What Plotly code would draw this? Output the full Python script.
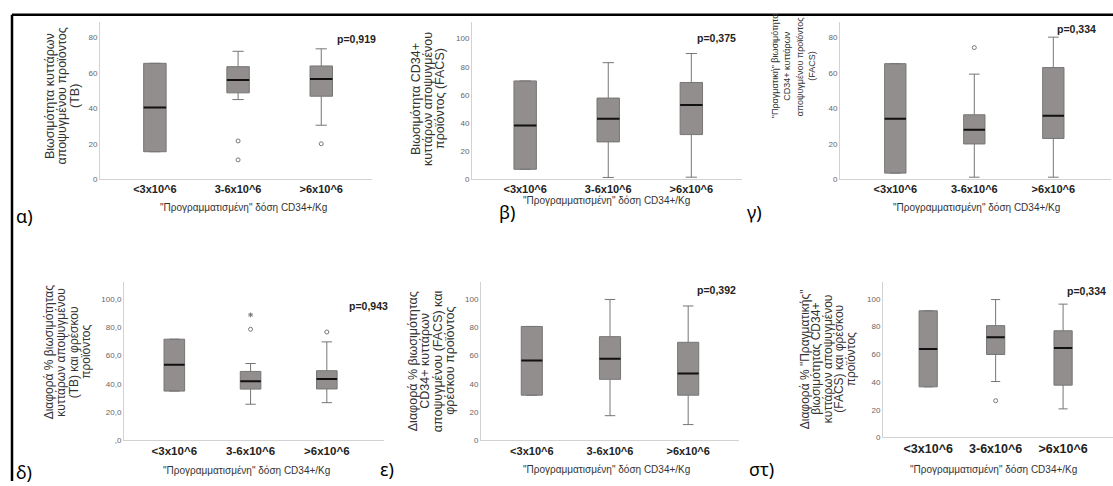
import plotly.graph_objects as go

W, H = 1113, 486

# ---------------- data ----------------
categories = ["<3x10^6", "3-6x10^6", ">6x10^6"]

# α) Viability TB
a_q1 = [15.5, 48.8, 46.9]
a_med = [40.5, 56.0, 56.7]
a_q3 = [65.5, 63.6, 64.0]
a_lo = [15.5, 45.0, 30.5]
a_hi = [65.5, 72.3, 73.7]
a_out_x = [1, 1, 2]
a_out_y = [21.6, 10.9, 20.0]

# β) Viability CD34+ FACS
b_q1 = [7.0, 26.5, 31.7]
b_med = [38.2, 43.0, 52.8]
b_q3 = [69.9, 57.7, 68.8]
b_lo = [7.0, 1.2, 1.4]
b_hi = [69.9, 82.9, 89.4]
b_out_x = []
b_out_y = []

# γ) "Real" viability CD34+ FACS
c_q1 = [3.4, 19.9, 23.0]
c_med = [34.2, 28.0, 35.8]
c_q3 = [65.3, 36.4, 63.1]
c_lo = [3.4, 1.1, 1.1]
c_hi = [65.3, 59.4, 80.3]
c_out_x = [1]
c_out_y = [74.4]

# δ) Difference % viability TB
d_q1 = [34.9, 36.3, 36.4]
d_med = [53.5, 41.8, 43.4]
d_q3 = [71.6, 48.8, 49.3]
d_lo = [34.9, 25.6, 26.7]
d_hi = [71.6, 54.4, 69.7]
d_out_x = [1, 2]
d_out_y = [78.6, 76.7]
d_ext_x = [1]
d_ext_y = [88.8]

# ε) Difference % viability CD34+ FACS
e_q1 = [32.0, 43.2, 32.0]
e_med = [56.5, 57.7, 47.4]
e_q3 = [80.6, 73.4, 69.4]
e_lo = [32.0, 17.5, 11.2]
e_hi = [80.6, 99.7, 95.1]
e_out_x = []
e_out_y = []

# στ) Difference % "real" viability CD34+ FACS
f_q1 = [36.5, 59.8, 37.7]
f_med = [63.8, 72.3, 64.5]
f_q3 = [91.3, 80.6, 76.9]
f_lo = [36.5, 40.3, 20.6]
f_hi = [91.3, 99.4, 96.1]
f_out_x = [1]
f_out_y = [26.5]

p_values = ["p=0,919", "p=0,375", "p=0,334", "p=0,943", "p=0,392", "p=0,334"]
panel_letters = ["α)", "β)", "γ)", "δ)", "ε)", "στ)"]
x_title = "\"Προγραμματισμένη\" δόση CD34+/Kg"

ytick_vals_80 = [0, 20, 40, 60, 80]
ytick_vals_100 = [0, 20, 40, 60, 80, 100]
ytick_text_d = [",0", "20,0", "40,0", "60,0", "80,0", "100,0"]

y_titles = [
    ["Βιωσιμότητα κυττάρων", "αποψυγμένου προϊόντος", "(TB)"],
    ["Βιωσιμότητα CD34+", "κυττάρων αποψυγμένου", "προϊόντος (FACS)"],
    ["\"Πραγματική\" βιωσιμότητα", "CD34+ κυττάρων", "αποψυγμένου προϊόντος", "(FACS)"],
    ["Διαφορά % βιωσιμότητας", "κυττάρων αποψυγμένου", "(TB) και φρέσκου", "προϊόντος"],
    ["Διαφορά % βιωσιμότητας", "CD34+ κυττάρων", "αποψυγμένου (FACS) και", "φρέσκου προϊόντος"],
    ["Διαφορά % \"Πραγματικής\"", "βιωσιμότητας CD34+", "κυττάρων αποψυγμένου", "(FACS) και φρέσκου", "προϊόντος"],
]

stats = [
    (a_q1, a_med, a_q3, a_lo, a_hi, a_out_x, a_out_y),
    (b_q1, b_med, b_q3, b_lo, b_hi, b_out_x, b_out_y),
    (c_q1, c_med, c_q3, c_lo, c_hi, c_out_x, c_out_y),
    (d_q1, d_med, d_q3, d_lo, d_hi, d_out_x, d_out_y),
    (e_q1, e_med, e_q3, e_lo, e_hi, e_out_x, e_out_y),
    (f_q1, f_med, f_q3, f_lo, f_hi, f_out_x, f_out_y),
]

# ---------------- layout specs (pixels) ----------------
specs = [
    dict(L=100, R=372, T=22, B=181, xr=[-0.66, 2.61], yr=[0, 89], yt=ytick_vals_80, ytt=None, xfs=11,
         tx=[50, 62.5, 75], ty=97, tfs=12.5, p=(335, 39), xt=(243, 210), lab=(14, 218)),
    dict(L=472, R=742, T=22, B=181, xr=[-0.64, 2.61], yr=[0, 112], yt=ytick_vals_100, ytt=None, xfs=11,
         tx=[416, 428, 440], ty=100, tfs=12.5, p=(695, 38), xt=(606, 203), lab=(497, 214)),
    dict(L=840, R=1111, T=22, B=181, xr=[-0.70, 2.73], yr=[0, 89], yt=ytick_vals_80, ytt=None, xfs=11,
         tx=[775, 787.5, 800, 812.5], ty=67, tfs=9, p=(1055, 29), xt=(976, 210), lab=(745, 214)),
    dict(L=124, R=384, T=285, B=445, xr=[-0.66, 2.75], yr=[0, 112], yt=ytick_vals_100, ytt=ytick_text_d, xfs=11.5,
         tx=[49, 61.5, 74, 86.5], ty=356, tfs=12, p=(347, 309), xt=(246, 475), lab=(14, 477)),
    dict(L=481, R=739, T=285, B=445, xr=[-0.65, 2.65], yr=[0, 112], yt=ytick_vals_100, ytt=None, xfs=11,
         tx=[413, 425.5, 438, 450.5], ty=365, tfs=12.5, p=(695, 293), xt=(606, 474), lab=(378, 474)),
    dict(L=883, R=1113, T=285, B=442, xr=[-0.67, 2.74], yr=[0, 112], yt=ytick_vals_100, ytt=None, xfs=12.5,
         tx=[805, 816.5, 828, 839.5, 851], ty=363, tfs=12, p=(1065, 294), xt=(993, 474), lab=(747, 474)),
]

BOX_W = 0.27
FILL = "#928e8d"
LINE = "#767676"
FONT = "Liberation Sans, Arial, sans-serif"


def px(xp):
    return xp / W


def py(yp):
    return 1 - yp / H


fig = go.Figure()
annotations = []
xpos = list(range(len(categories)))

for i, (sp, st) in enumerate(zip(specs, stats)):
    q1, med, q3, lo, hi, ox, oy = st
    n = "" if i == 0 else str(i + 1)
    xa, ya = "x" + n, "y" + n
    fig.add_trace(go.Box(
        x=xpos, q1=q1, median=med, q3=q3, lowerfence=lo, upperfence=hi,
        width=BOX_W, whiskerwidth=0.5, fillcolor=FILL,
        line=dict(color=LINE, width=1), boxpoints=False,
        xaxis=xa, yaxis=ya, showlegend=False, hoverinfo="skip"))
    # median lines (black)
    mx, my = [], []
    for k, m in enumerate(med):
        mx += [xpos[k] - BOX_W / 2, xpos[k] + BOX_W / 2, None]
        my += [m, m, None]
    fig.add_trace(go.Scatter(x=mx, y=my, mode="lines", line=dict(color="#111111", width=2),
                             xaxis=xa, yaxis=ya, showlegend=False, hoverinfo="skip"))
    if ox:
        fig.add_trace(go.Scatter(x=ox, y=oy, mode="markers",
                                 marker=dict(symbol="circle-open", size=4, color="#777777",
                                             line=dict(width=1)),
                                 xaxis=xa, yaxis=ya, showlegend=False, hoverinfo="skip"))
    if i == 3:
        fig.add_trace(go.Scatter(x=d_ext_x, y=d_ext_y, mode="markers",
                                 marker=dict(symbol="asterisk-open", size=4, color="#777777",
                                             line=dict(width=1)),
                                 xaxis=xa, yaxis=ya, showlegend=False, hoverinfo="skip"))

    fig.update_layout({
        "xaxis" + n: dict(domain=[px(sp["L"]), px(sp["R"])], anchor=ya, range=sp["xr"],
                          tickvals=xpos, ticktext=categories, showline=True, linecolor="#d2d2d2",
                          linewidth=1, showgrid=False, zeroline=False, ticks="",
                          tickfont=dict(family=FONT, size=sp["xfs"], color="#222222", weight="bold")),
        "yaxis" + n: dict(domain=[py(sp["B"]), py(sp["T"])], anchor=xa, range=sp["yr"],
                          tickvals=sp["yt"], ticktext=sp["ytt"] if sp["ytt"] else [str(v) for v in sp["yt"]],
                          showline=True, linecolor="#d2d2d2", linewidth=1, showgrid=False,
                          zeroline=False, ticks="",
                          tickfont=dict(family=FONT, size=8, color="#666666")),
    })

    # y title lines
    for line_txt, lx in zip(y_titles[i], sp["tx"]):
        annotations.append(dict(x=px(lx), y=py(sp["ty"]), xref="paper", yref="paper",
                                text=line_txt, textangle=-90, showarrow=False,
                                xanchor="center", yanchor="middle",
                                font=dict(family=FONT, size=sp["tfs"], color="#333333")))
    # p value
    annotations.append(dict(x=px(sp["p"][0]), y=py(sp["p"][1]), xref="paper", yref="paper",
                            text="<b>" + p_values[i] + "</b>", showarrow=False,
                            xanchor="left", yanchor="middle",
                            font=dict(family=FONT, size=10.5, color="#222222")))
    # x title
    annotations.append(dict(x=px(sp["xt"][0]), y=py(sp["xt"][1]), xref="paper", yref="paper",
                            text=x_title, showarrow=False, xanchor="center", yanchor="middle",
                            font=dict(family=FONT, size=10, color="#333333")))
    # panel letter
    annotations.append(dict(x=px(sp["lab"][0]), y=py(sp["lab"][1]), xref="paper", yref="paper",
                            text=panel_letters[i], showarrow=False, xanchor="left", yanchor="middle",
                            font=dict(family="Noto Sans, Open Sans, sans-serif", size=18,
                                      color="#000000")))

shapes = [
    dict(type="line", xref="paper", yref="paper", x0=px(12), x1=px(W), y0=py(15), y1=py(15),
         line=dict(color="black", width=2.5)),
    dict(type="line", xref="paper", yref="paper", x0=px(12), x1=px(12), y0=py(15), y1=py(H),
         line=dict(color="black", width=2.5)),
]

fig.update_layout(width=W, height=H, margin=dict(l=0, r=0, t=0, b=0),
                  paper_bgcolor="white", plot_bgcolor="white",
                  annotations=annotations, shapes=shapes, showlegend=False)

fig.write_html("out.html", config={"displayModeBar": False},
               post_script="document.body.style.margin='0px';document.body.style.overflow='hidden';")
